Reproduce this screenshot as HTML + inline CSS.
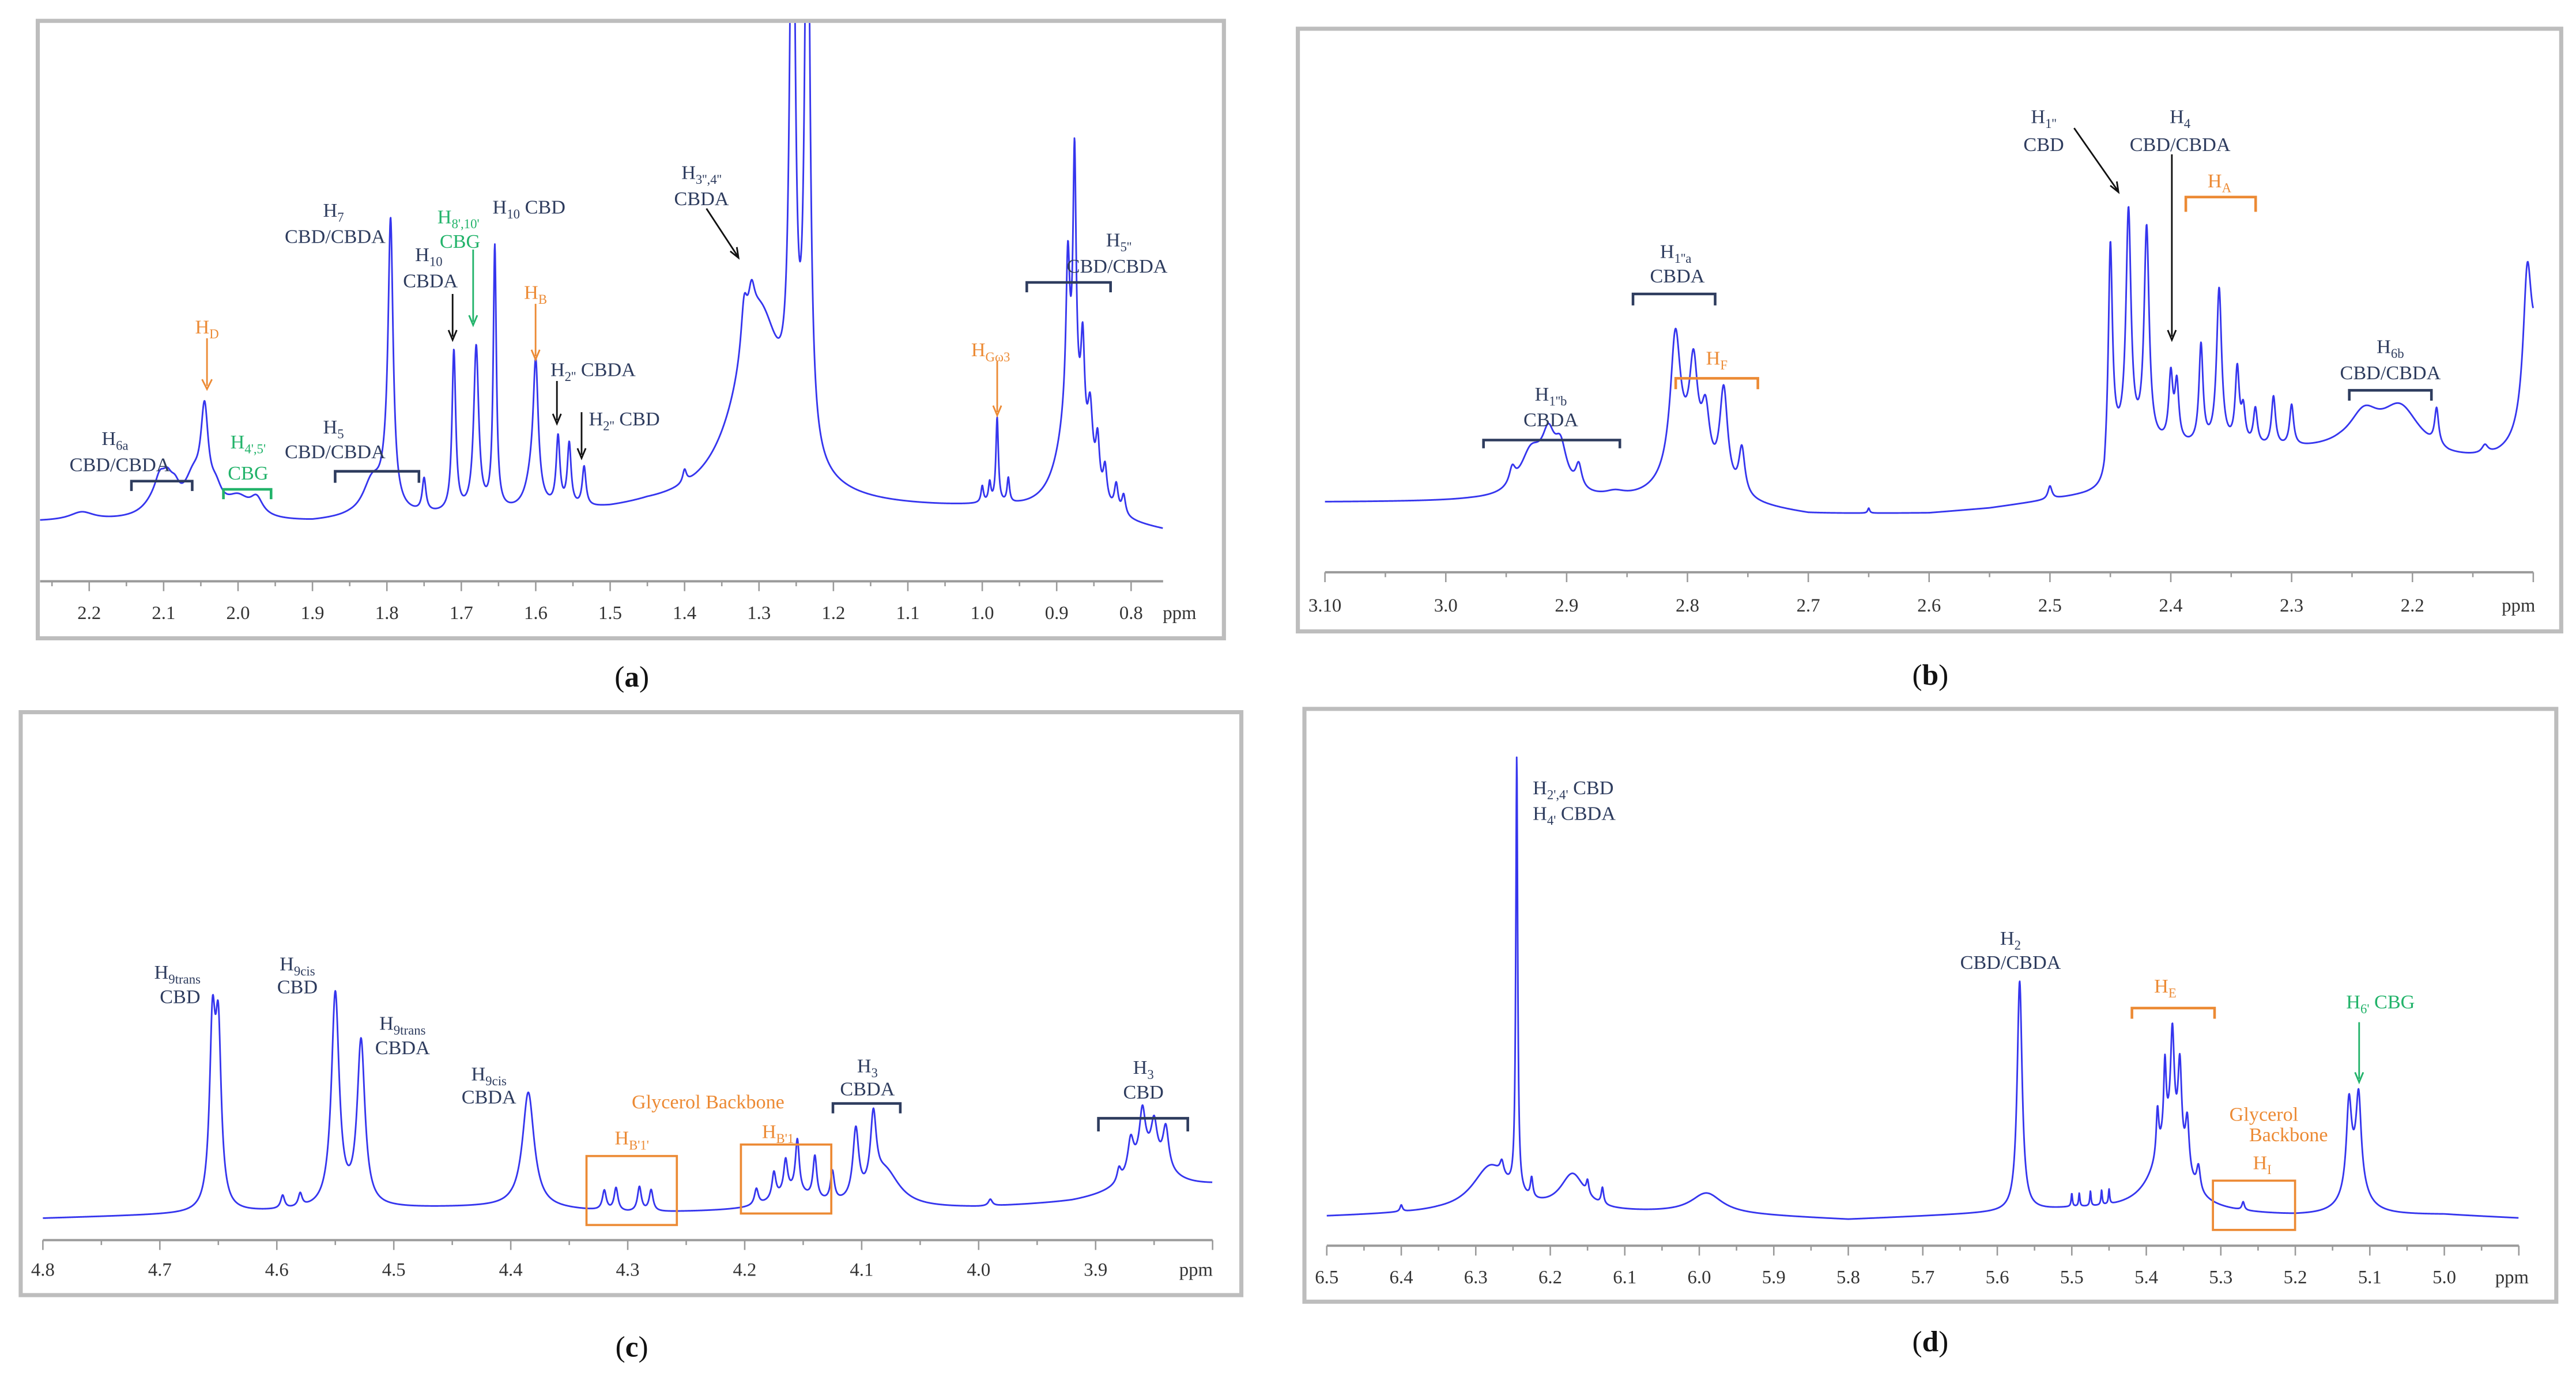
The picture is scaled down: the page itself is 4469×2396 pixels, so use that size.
<!DOCTYPE html>
<html><head><meta charset="utf-8"><title>NMR spectra panels</title>
<style>
html,body{margin:0;padding:0;background:#fff;}
svg{display:block;}
text{font-family:"Liberation Serif",serif;}
.lb{fill:#2e3c5e;font-size:12px;text-anchor:middle;}
.or{fill:#ec8a34;font-size:12px;text-anchor:middle;}
.gr{fill:#22b36a;font-size:12px;text-anchor:middle;}
.tk{fill:#333;font-size:11.5px;text-anchor:middle;}
.sub{font-size:8px;}
.cap{fill:#111;font-size:18px;text-anchor:middle;}
</style></head>
<body>
<svg id="fig" width="4469" height="2396" viewBox="0 0 1568 841" preserveAspectRatio="none" xmlns="http://www.w3.org/2000/svg">
<defs>
<clipPath id="clipA"><rect x="24" y="14" width="720" height="374"/></clipPath>
<clipPath id="clipB"><rect x="791" y="19" width="767" height="365"/></clipPath>
<clipPath id="clipC"><rect x="14" y="435" width="741" height="353"/></clipPath>
<clipPath id="clipD"><rect x="795" y="433" width="760" height="359"/></clipPath>
</defs>
<rect x="23" y="12.7" width="722" height="376" fill="#fff" stroke="#bdbdbd" stroke-width="2.5"/>
<rect x="790" y="17.5" width="769" height="367" fill="#fff" stroke="#bdbdbd" stroke-width="2.5"/>
<rect x="12.6" y="433.7" width="743" height="355" fill="#fff" stroke="#bdbdbd" stroke-width="2.5"/>
<rect x="794" y="431.7" width="762" height="361" fill="#fff" stroke="#bdbdbd" stroke-width="2.5"/>
<g id="layer"></g>

<g>
<text class="lb" x="70" y="271">H<tspan class="sub" dy="3">6a</tspan></text>
<text class="lb" x="73" y="287">CBD/CBDA</text>
<path d="M80,299 V293 H117 V299" fill="none" stroke="#2e3c5e" stroke-width="1.6"/>
<text class="or" x="126" y="203">H<tspan class="sub" dy="3">D</tspan></text>
<path d="M126,206 V235 M123,231 L126,237 L129,231" fill="none" stroke="#ec8a34" stroke-width="1"/>
<text class="gr" x="151" y="273">H<tspan class="sub" dy="3">4',5'</tspan></text>
<text class="gr" x="151" y="292">CBG</text>
<path d="M136,304 V298 H165 V304" fill="none" stroke="#22b36a" stroke-width="1.6"/>
<text class="lb" x="203" y="264">H<tspan class="sub" dy="3">5</tspan></text>
<text class="lb" x="204" y="279">CBD/CBDA</text>
<path d="M204,294 V287 H255 V294" fill="none" stroke="#2e3c5e" stroke-width="1.6"/>
<text class="lb" x="203" y="132">H<tspan class="sub" dy="3">7</tspan></text>
<text class="lb" x="204" y="148">CBD/CBDA</text>
<text class="lb" x="261" y="159">H<tspan class="sub" dy="3">10</tspan></text>
<text class="lb" x="262" y="175">CBDA</text>
<path d="M275.5,179 V205 M273,201 L275.5,207 L278,201" fill="none" stroke="#111" stroke-width="1"/>
<text class="gr" x="279" y="136">H<tspan class="sub" dy="3">8',10'</tspan></text>
<text class="gr" x="280" y="151">CBG</text>
<path d="M288,152 V196 M285.5,192 L288,198 L290.5,192" fill="none" stroke="#22b36a" stroke-width="1"/>
<text class="lb" x="322" y="130">H<tspan class="sub" dy="3">10</tspan><tspan dy="-3"> CBD</tspan></text>
<text class="or" x="326" y="182">H<tspan class="sub" dy="3">B</tspan></text>
<path d="M326,185 V217 M323.5,213 L326,219 L328.5,213" fill="none" stroke="#ec8a34" stroke-width="1"/>
<text class="lb" x="361" y="229">H<tspan class="sub" dy="3">2''</tspan><tspan dy="-3"> CBDA</tspan></text>
<path d="M339,232 V256 M336.5,252 L339,258 L341.5,252" fill="none" stroke="#111" stroke-width="1"/>
<text class="lb" x="380" y="259">H<tspan class="sub" dy="3">2''</tspan><tspan dy="-3"> CBD</tspan></text>
<path d="M354,251 V277 M351.5,273 L354,279 L356.5,273" fill="none" stroke="#111" stroke-width="1"/>
<text class="lb" x="427" y="109">H<tspan class="sub" dy="3">3'',4''</tspan></text>
<text class="lb" x="427" y="125">CBDA</text>
<path d="M430,127 L449,156 M444.5,153 L449.5,157 L448.5,150.5" fill="none" stroke="#111" stroke-width="1"/>
<text class="or" x="603" y="217">H<tspan class="sub" dy="3">Gω3</tspan></text>
<path d="M607,220 V251 M604.5,247 L607,253 L609.5,247" fill="none" stroke="#ec8a34" stroke-width="1"/>
<text class="lb" x="681" y="150">H<tspan class="sub" dy="3">5''</tspan></text>
<text class="lb" x="680" y="166">CBD/CBDA</text>
<path d="M625,178 V172 H676 V178" fill="none" stroke="#2e3c5e" stroke-width="1.6"/>
</g>

<g>
<text class="lb" x="1244" y="75">H<tspan class="sub" dy="3">1''</tspan></text>
<text class="lb" x="1244" y="92">CBD</text>
<path d="M1262.5,78 L1289,116 M1284.5,113 L1289.5,117 L1288.5,110.5" fill="none" stroke="#111" stroke-width="1"/>
<text class="lb" x="1327" y="75">H<tspan class="sub" dy="3">4</tspan></text>
<text class="lb" x="1327" y="92">CBD/CBDA</text>
<path d="M1322,94 V205 M1319.5,201 L1322,207 L1324.5,201" fill="none" stroke="#111" stroke-width="1"/>
<text class="or" x="1351" y="114">H<tspan class="sub" dy="3">A</tspan></text>
<path d="M1330.5,129 V120 H1373 V129" fill="none" stroke="#ec8a34" stroke-width="1.6"/>
<text class="lb" x="1020" y="157">H<tspan class="sub" dy="3">1''a</tspan></text>
<text class="lb" x="1021" y="172">CBDA</text>
<path d="M994,186 V179 H1044 V186" fill="none" stroke="#2e3c5e" stroke-width="1.6"/>
<text class="or" x="1045" y="222">H<tspan class="sub" dy="3">F</tspan></text>
<path d="M1020,237 V230.4 H1070 V237" fill="none" stroke="#ec8a34" stroke-width="1.6"/>
<text class="lb" x="944" y="244">H<tspan class="sub" dy="3">1''b</tspan></text>
<text class="lb" x="944" y="259.5">CBDA</text>
<path d="M903,273 V268 H986 V273" fill="none" stroke="#2e3c5e" stroke-width="1.6"/>
<text class="lb" x="1455" y="215">H<tspan class="sub" dy="3">6b</tspan></text>
<text class="lb" x="1455" y="231">CBD/CBDA</text>
<path d="M1430,244 V237.7 H1480 V244" fill="none" stroke="#2e3c5e" stroke-width="1.6"/>
</g>

<g>
<text class="lb" x="108" y="596">H<tspan class="sub" dy="3">9trans</tspan></text>
<text class="lb" x="109.6" y="611">CBD</text>
<text class="lb" x="181" y="591">H<tspan class="sub" dy="3">9cis</tspan></text>
<text class="lb" x="181" y="605">CBD</text>
<text class="lb" x="245" y="627">H<tspan class="sub" dy="3">9trans</tspan></text>
<text class="lb" x="245" y="642">CBDA</text>
<text class="lb" x="297.6" y="658">H<tspan class="sub" dy="3">9cis</tspan></text>
<text class="lb" x="297.6" y="672">CBDA</text>
<text class="or" x="431" y="675">Glycerol Backbone</text>
<text class="or" x="384.6" y="697">H<tspan class="sub" dy="3">B'1'</tspan></text>
<rect x="357" y="704" width="55" height="42" fill="none" stroke="#ec8a34" stroke-width="1.3"/>
<text class="or" x="473.5" y="693">H<tspan class="sub" dy="3">B'1</tspan></text>
<rect x="451" y="697" width="55" height="42" fill="none" stroke="#ec8a34" stroke-width="1.3"/>
<text class="lb" x="528" y="653">H<tspan class="sub" dy="3">3</tspan></text>
<text class="lb" x="528" y="667">CBDA</text>
<path d="M507,678 V672 H548 V678" fill="none" stroke="#2e3c5e" stroke-width="1.6"/>
<text class="lb" x="696" y="654">H<tspan class="sub" dy="3">3</tspan></text>
<text class="lb" x="696" y="669">CBD</text>
<path d="M668.6,689 V681 H723 V689" fill="none" stroke="#2e3c5e" stroke-width="1.6"/>
</g>

<g>
<text class="lb" x="933" y="483.7" style="text-anchor:start">H<tspan class="sub" dy="3">2',4'</tspan><tspan dy="-3"> CBD</tspan></text>
<text class="lb" x="933" y="499.3" style="text-anchor:start">H<tspan class="sub" dy="3">4'</tspan><tspan dy="-3"> CBDA</tspan></text>
<text class="lb" x="1223.8" y="575.3">H<tspan class="sub" dy="3">2</tspan></text>
<text class="lb" x="1223.8" y="590">CBD/CBDA</text>
<text class="or" x="1318" y="604.4">H<tspan class="sub" dy="3">E</tspan></text>
<path d="M1297.7,620.4 V613.9 H1348 V620.4" fill="none" stroke="#ec8a34" stroke-width="1.6"/>
<text class="gr" x="1449" y="614">H<tspan class="sub" dy="3">6'</tspan><tspan dy="-3"> CBG</tspan></text>
<path d="M1436,622.5 V657 M1433.5,653 L1436,659 L1438.5,653" fill="none" stroke="#22b36a" stroke-width="1"/>
<text class="or" x="1378" y="682.6">Glycerol</text>
<text class="or" x="1393" y="695">Backbone</text>
<text class="or" x="1377" y="712">H<tspan class="sub" dy="3">I</tspan></text>
<rect x="1347" y="719" width="50" height="30" fill="none" stroke="#ec8a34" stroke-width="1.3"/>
</g>

<text class="cap" x="384.6" y="418">(<tspan font-weight="bold">a</tspan>)</text>
<text class="cap" x="1175" y="417">(<tspan font-weight="bold">b</tspan>)</text>
<text class="cap" x="384.6" y="826">(<tspan font-weight="bold">c</tspan>)</text>
<text class="cap" x="1175" y="823">(<tspan font-weight="bold">d</tspan>)</text>
</svg>

<script>
// ---- Panel a data ----
const aPeakPpm   = [2.21,2.11,2.105,2.095,2.085,2.06,2.045,2.03,2.00,1.975,1.82,1.80,1.795,1.75,1.71,1.68,1.655,1.605,1.60,1.57,1.555,1.535,1.40,1.30,1.32,1.31,1.255,1.235,1.00,0.99,0.98,0.965,0.88,0.885,0.876,0.865,0.855,0.845,0.835,0.82,0.81];
const aPeakHeight= [5,10,12,13,10,22,55,12,12,10,20,15,165,20,98,100,160,18,78,42,38,24,8,118,30,20,400,400,10,12,52,15,70,90,150,60,40,30,20,16,12];
const aPeakWidth = [0.02,0.02,0.008,0.008,0.008,0.015,0.006,0.01,0.02,0.01,0.015,0.01,0.004,0.003,0.003,0.004,0.0025,0.01,0.004,0.003,0.003,0.003,0.003,0.04,0.005,0.005,0.004,0.004,0.002,0.002,0.002,0.002,0.02,0.003,0.0025,0.003,0.004,0.003,0.003,0.003,0.003];
const aBasePpm = [2.27,2.15,1.9,1.85,1.5,1.45,1.1,1.0,0.95,0.8,0.75];
const aBaseVal = [12,12,11,13,17,19,19,19,17,8,5];
const aTickLabels = ['2.2','2.1','2.0','1.9','1.8','1.7','1.6','1.5','1.4','1.3','1.2','1.1','1.0','0.9','0.8'];
const aTickPpm = [2.2,2.1,2.0,1.9,1.8,1.7,1.6,1.5,1.4,1.3,1.2,1.1,1.0,0.9,0.8];

// ---- Panel b data ----
const bPeakPpm   = [2.945,2.93,2.915,2.905,2.89,2.92,2.86,2.81,2.795,2.785,2.77,2.755,2.80,2.65,2.50,2.45,2.435,2.42,2.40,2.395,2.375,2.36,2.345,2.34,2.33,2.315,2.30,2.24,2.21,2.18,2.14,2.105,2.095,2.10];
const bPeakHeight= [10,18,22,22,14,15,3,80,55,35,60,28,28,3,8,120,140,130,40,35,60,95,45,20,22,30,25,20,28,22,5,80,50,40];
const bPeakWidth = [0.003,0.01,0.006,0.006,0.003,0.02,0.01,0.005,0.004,0.004,0.004,0.003,0.02,0.001,0.002,0.002,0.0025,0.0025,0.002,0.002,0.002,0.0025,0.002,0.002,0.002,0.002,0.002,0.015,0.02,0.002,0.003,0.004,0.004,0.01];
const bBasePpm = [3.1,2.98,2.85,2.75,2.7,2.6,2.55,2.47,2.455,2.45,2.3,2.26,2.19,2.17,2.13,2.1];
const bBaseVal = [24,24,22,20,16,17,20,28,30,58,55,55,50,48,48,50];
const bTickLabels = ['3.10','3.0','2.9','2.8','2.7','2.6','2.5','2.4','2.3','2.2'];
const bTickPpm = [3.1,3.0,2.9,2.8,2.7,2.6,2.5,2.4,2.3,2.2];

// ---- Panel c data ----
const cPeakPpm   = [4.655,4.65,4.595,4.58,4.55,4.528,4.385,4.32,4.31,4.29,4.28,4.19,4.175,4.165,4.155,4.14,4.125,4.16,4.105,4.09,4.08,3.99,3.88,3.87,3.86,3.85,3.84,3.855];
const cPeakHeight= [105,100,8,8,130,100,70,12,14,15,13,10,16,20,32,26,18,10,42,44,22,4,8,20,30,22,25,22];
const cPeakWidth = [0.003,0.003,0.002,0.002,0.004,0.004,0.006,0.002,0.002,0.002,0.002,0.002,0.002,0.002,0.002,0.002,0.002,0.02,0.003,0.003,0.015,0.002,0.002,0.003,0.003,0.003,0.003,0.02];
const cBasePpm = [4.8,4.7,4.5,4.4,4.3,4.2,4.0,3.92,3.8];
const cBaseVal = [3,5,9,10,6,7,9,12,22];
const cTickLabels = ['4.8','4.7','4.6','4.5','4.4','4.3','4.2','4.1','4.0','3.9'];
const cTickPpm = [4.8,4.7,4.6,4.5,4.4,4.3,4.2,4.1,4.0,3.9];

// ---- Panel d data ----
const dPeakPpm   = [6.40,6.28,6.265,6.245,6.225,6.17,6.15,6.13,5.99,5.57,5.50,5.49,5.475,5.46,5.45,5.365,5.355,5.375,5.385,5.37,5.345,5.33,5.27,5.128,5.115,5.12];
const dPeakHeight= [4,28,8,265,12,22,8,10,12,140,8,8,9,9,9,65,55,45,28,45,32,15,5,50,50,25];
const dPeakWidth = [0.002,0.03,0.003,0.0015,0.002,0.02,0.002,0.002,0.025,0.004,0.001,0.001,0.001,0.001,0.001,0.003,0.003,0.002,0.002,0.025,0.003,0.003,0.002,0.004,0.004,0.015];
const dBasePpm = [6.5,6.35,6.0,5.8,5.6,5.5,5.2,5.0,4.9];
const dBaseVal = [4,6,6,2,6,8,4,5,3];
const dTickLabels = ['6.5','6.4','6.3','6.2','6.1','6.0','5.9','5.8','5.7','5.6','5.5','5.4','5.3','5.2','5.1','5.0'];
const dTickPpm = [6.5,6.4,6.3,6.2,6.1,6.0,5.9,5.8,5.7,5.6,5.5,5.4,5.3,5.2,5.1,5.0];

const NS='http://www.w3.org/2000/svg';
const layer=document.getElementById('layer');

const panels=[
 {id:'a',p0:2.2,x0:54.3,k:453,yBase:330,from:2.266,to:0.757,axisY:354,axFrom:2.266,axTo:0.757,labY:377,ppmX:718,clip:'clipA',
  pk:aPeakPpm,ph:aPeakHeight,pw:aPeakWidth,bp:aBasePpm,bv:aBaseVal,tl:aTickLabels,tp:aTickPpm},
 {id:'b',p0:3.1,x0:806.5,k:735.5,yBase:330,from:3.1,to:2.1,axisY:348.5,axFrom:3.1,axTo:2.1,labY:372.5,ppmX:1533,clip:'clipB',
  pk:bPeakPpm,ph:bPeakHeight,pw:bPeakWidth,bp:bBasePpm,bv:bBaseVal,tl:bTickLabels,tp:bTickPpm},
 {id:'c',p0:4.8,x0:26.1,k:712,yBase:745,from:4.8,to:3.8,axisY:755.2,axFrom:4.8,axTo:3.8,labY:777,ppmX:728,clip:'clipC',
  pk:cPeakPpm,ph:cPeakHeight,pw:cPeakWidth,bp:cBasePpm,bv:cBaseVal,tl:cTickLabels,tp:cTickPpm},
 {id:'d',p0:6.5,x0:807.6,k:453.5,yBase:745,from:6.5,to:4.9,axisY:758.6,axFrom:6.5,axTo:4.9,labY:781.5,ppmX:1529,clip:'clipD',
  pk:dPeakPpm,ph:dPeakHeight,pw:dPeakWidth,bp:dBasePpm,bv:dBaseVal,tl:dTickLabels,tp:dTickPpm}
];

function xS(P,ppm){return P.x0+(P.p0-ppm)*P.k;}
function yS(P,v){return P.yBase-v;}
function baseAt(P,ppm){
  const bp=P.bp,bv=P.bv;
  if(ppm>=bp[0])return bv[0];
  for(let i=1;i<bp.length;i++){
    if(ppm>=bp[i]){const t=(bp[i-1]-ppm)/(bp[i-1]-bp[i]);return bv[i-1]+t*(bv[i]-bv[i-1]);}
  }
  return bv[bv.length-1];
}
function intensity(P,ppm){
  let v=baseAt(P,ppm);
  for(let i=0;i<P.pk.length;i++){const d=(ppm-P.pk[i])/P.pw[i];v+=P.ph[i]/(1+d*d);}
  return v;
}

panels.forEach(P=>{
  const ax=document.createElementNS(NS,'line');
  
  
  ax.setAttribute('x1',xS(P,P.axFrom));ax.setAttribute('x2',xS(P,P.axTo));
  ax.setAttribute('y1',P.axisY);ax.setAttribute('y2',P.axisY);
  ax.setAttribute('stroke','#9a9a9a');ax.setAttribute('stroke-width','1.4');
  layer.appendChild(ax);
  let ticks='';
  const start=Math.floor(P.axFrom*20)/20;
  for(let t=start; t>=P.axTo-1e-6; t-=0.05){
    const major=Math.abs(Math.round(t*10)-t*10)<1e-3;
    const x=xS(P,t);
    ticks+='M'+x.toFixed(2)+','+P.axisY+'V'+(P.axisY+(major?6:3));
  }
  const tk=document.createElementNS(NS,'path');
  
  
  tk.setAttribute('d',ticks);tk.setAttribute('stroke','#9a9a9a');tk.setAttribute('stroke-width','0.9');
  layer.appendChild(tk);
  P.tl.forEach((lab,i)=>{
    const t=document.createElementNS(NS,'text');
    
    
    t.setAttribute('class','tk');t.setAttribute('x',xS(P,P.tp[i]));t.setAttribute('y',P.labY);
    t.textContent=lab;layer.appendChild(t);
  });
  const pp=document.createElementNS(NS,'text');
  
  
  pp.setAttribute('class','tk');pp.setAttribute('x',P.ppmX);pp.setAttribute('y',P.labY);
  pp.textContent='ppm';layer.appendChild(pp);
  let d='';
  const x1=xS(P,P.from),x2=xS(P,P.to);
  for(let x=x1;x<=x2;x+=0.2){
    const ppm=P.p0-(x-P.x0)/P.k;
    d+=(d?'L':'M')+x.toFixed(2)+','+yS(P,intensity(P,ppm)).toFixed(2);
  }
  const sp=document.createElementNS(NS,'path');
  
  
  sp.setAttribute('d',d);sp.setAttribute('fill','none');sp.setAttribute('stroke','#3535ee');
  sp.setAttribute('stroke-width','1');sp.setAttribute('stroke-linejoin','round');
  sp.setAttribute('clip-path','url(#'+P.clip+')');
  layer.appendChild(sp);
});
</script>
</body></html>
